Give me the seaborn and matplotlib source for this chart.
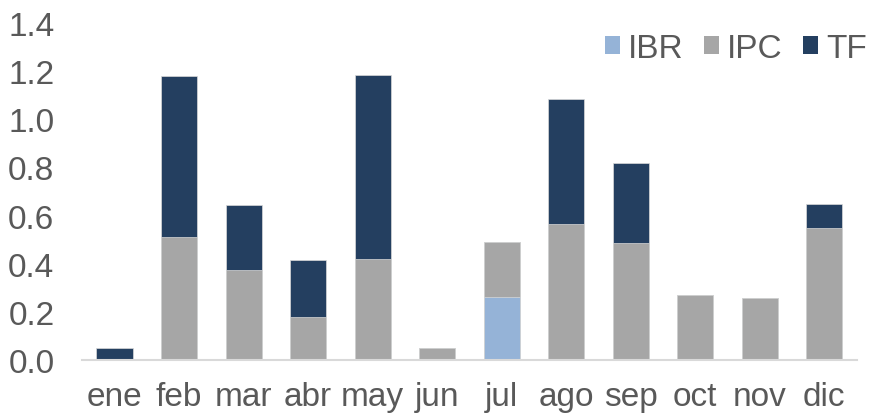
import pandas as pd
import matplotlib
matplotlib.use('Agg')
import matplotlib.pyplot as plt
import seaborn as sns
from matplotlib.patches import Patch

# Monthly values
months = ['ene', 'feb', 'mar', 'abr', 'may', 'jun', 'jul', 'ago', 'sep', 'oct', 'nov', 'dic']
ibr = [0.0, 0.0, 0.0, 0.0, 0.0, 0.0, 0.26, 0.0, 0.0, 0.0, 0.0, 0.0]
ipc = [0.0, 0.51, 0.375, 0.18, 0.42, 0.05, 0.23, 0.565, 0.485, 0.27, 0.257, 0.55]
tf = [0.05, 0.67, 0.27, 0.235, 0.765, 0.0, 0.0, 0.52, 0.335, 0.0, 0.0, 0.10]

colors = {'IBR': '#95B3D7', 'IPC': '#A6A6A6', 'TF': '#243F60'}
text_color = '#595959'

df = pd.DataFrame({'month': months, 'IBR': ibr, 'IPC': ipc, 'TF': tf})
# cumulative heights for stacking (draw tallest first)
df['IBR_IPC'] = df['IBR'] + df['IPC']
df['total'] = df['IBR_IPC'] + df['TF']

sns.set_style('white')
plt.rcParams['font.family'] = ['Liberation Sans', 'DejaVu Sans']

fig = plt.figure(figsize=(8.75, 4.14), dpi=100)
ax = fig.add_axes([0.094, 0.128, 0.885, 0.814])

bar_kw = dict(width=0.56, edgecolor='#d9d9d9', linewidth=0.5, ax=ax)
sns.barplot(data=df, x='month', y='total', color=colors['TF'], saturation=1, **bar_kw)
sns.barplot(data=df, x='month', y='IBR_IPC', color=colors['IPC'], saturation=1, **bar_kw)
sns.barplot(data=df, x='month', y='IBR', color=colors['IBR'], saturation=1, **bar_kw)

ax.set_ylim(0, 1.4)
ax.set_xlim(-0.5, 11.5)
ax.set_yticks([0.0, 0.2, 0.4, 0.6, 0.8, 1.0, 1.2, 1.4])
ax.set_yticklabels([f'{v:.1f}' for v in ax.get_yticks()])
ax.set_xlabel('')
ax.set_ylabel('')
ax.tick_params(axis='both', length=0, labelsize=24, labelcolor=text_color)
ax.tick_params(axis='x', pad=15)
ax.tick_params(axis='y', pad=20)

for side in ['top', 'right', 'left']:
    ax.spines[side].set_visible(False)
ax.spines['bottom'].set_color('#d9d9d9')
ax.spines['bottom'].set_linewidth(1.5)

handles = [Patch(facecolor=colors[k], edgecolor='none', label=k) for k in ['IBR', 'IPC', 'TF']]
leg = fig.legend(handles=handles, loc='upper right', bbox_to_anchor=(1.025, 0.99), ncol=3,
                 frameon=False, fontsize=24, handlelength=0.45, handleheight=0.45,
                 handletextpad=0.25, columnspacing=0.6, labelcolor=text_color)

fig.savefig('out.png', dpi=100)
